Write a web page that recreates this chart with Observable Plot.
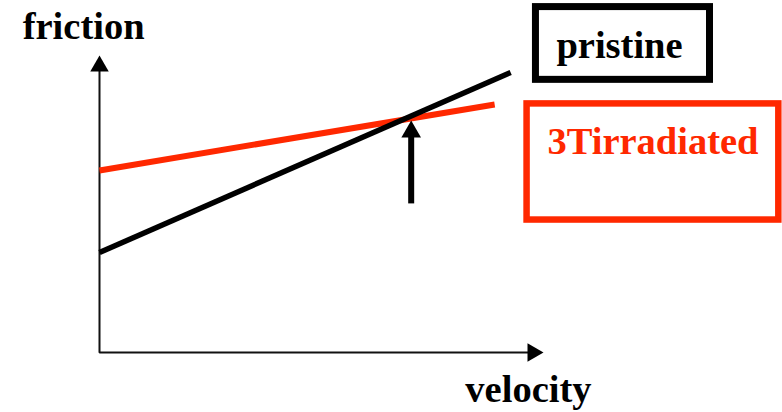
<!DOCTYPE html>
<html>
<head>
<meta charset="utf-8">
<script src="https://cdn.jsdelivr.net/npm/d3@7"></script>
<script src="https://cdn.jsdelivr.net/npm/@observablehq/plot@0.6"></script>
<style>
  html, body { margin: 0; padding: 0; background: #fff; }
  svg { display: block; }
</style>
</head>
<body>
<div id="chart"></div>
<script>
// Schematic data (arbitrary units)
const seriesNames = ["pristine", "3Tirradiated"];
const velocity = [0, 9.26];            // pristine line x extent
const pristineFriction = [3.37, 9.43];
const velocityIrr = [0, 8.90];         // irradiated line x extent
const irradiatedFriction = [6.13, 8.35];
const axisLabels = ["friction", "velocity"];
const crossingVelocity = 7.02;

const pristine = velocity.map((v, i) => ({v, f: pristineFriction[i]}));
const irradiated = velocityIrr.map((v, i) => ({v, f: irradiatedFriction[i]}));

const RED = "#ff2800";
const FONT = "Liberation Serif, Times New Roman, serif";

const chart = Plot.plot({
  width: 782,
  height: 412,
  marginLeft: 99,
  marginRight: 239,
  marginTop: 55,
  marginBottom: 60,
  x: {domain: [0, 10], axis: null},
  y: {domain: [0, 10], axis: null},
  style: {background: "#fff", fontFamily: FONT},
  marks: [
    // axes
    Plot.line([{v: 0, f: 9.7}, {v: 0, f: 0}, {v: 9.7, f: 0}], {x: "v", y: "f", stroke: "#111", strokeWidth: 2, strokeLinecap: "butt", strokeLinejoin: "miter"}),
    Plot.dot([{v: 0, f: 9.64}], {x: "v", y: "f", symbol: "triangle", r: 6.86, fill: "#000", stroke: "none"}),
    Plot.dot([{v: 9.76, f: 0}], {x: "v", y: "f", symbol: "triangle", r: 6.86, fill: "#000", stroke: "none", rotate: 90}),
    // series lines
    Plot.line(irradiated, {x: "v", y: "f", stroke: RED, strokeWidth: 6, strokeLinecap: "butt"}),
    Plot.line(pristine, {x: "v", y: "f", stroke: "#000", strokeWidth: 5.5, strokeLinecap: "butt"}),
    // crossing arrow
    Plot.line([{v: crossingVelocity, f: 5.02}, {v: crossingVelocity, f: 7.5}], {x: "v", y: "f", stroke: "#000", strokeWidth: 6, strokeLinecap: "butt"}),
    Plot.dot([{v: crossingVelocity, f: 7.43}], {x: "v", y: "f", symbol: "triangle", r: 7.29, fill: "#000", stroke: "none"}),
    // legend boxes
    Plot.rect([{x1: 9.83, x2: 13.75, y1: 9.18, y2: 11.63}], {x1: "x1", x2: "x2", y1: "y1", y2: "y2", fill: "none", stroke: "#000", strokeWidth: 7}),
    Plot.rect([{x1: 9.63, x2: 15.30, y1: 4.46, y2: 8.37}], {x1: "x1", x2: "x2", y1: "y1", y2: "y2", fill: "none", stroke: RED, strokeWidth: 6.5}),
    // texts
    Plot.text([{v: -1.73, f: 10.54, t: axisLabels[0]}], {x: "v", y: "f", text: "t", textAnchor: "start", lineAnchor: "bottom", fontSize: 38.5, fontWeight: "bold", fill: "#000"}),
    Plot.text([{v: 8.24, f: -1.68, t: axisLabels[1]}], {x: "v", y: "f", text: "t", textAnchor: "start", lineAnchor: "bottom", fontSize: 38.5, fontWeight: "bold", fill: "#000"}),
    Plot.text([{v: 10.29, f: 9.93, t: seriesNames[0]}], {x: "v", y: "f", text: "t", textAnchor: "start", lineAnchor: "bottom", fontSize: 38.5, fontWeight: "bold", fill: "#000"}),
    Plot.text([{v: 10.09, f: 6.70, t: seriesNames[1]}], {x: "v", y: "f", text: "t", textAnchor: "start", lineAnchor: "bottom", fontSize: 38.5, fontWeight: "bold", fill: RED})
  ]
});
document.getElementById("chart").appendChild(chart);
</script>
</body>
</html>
